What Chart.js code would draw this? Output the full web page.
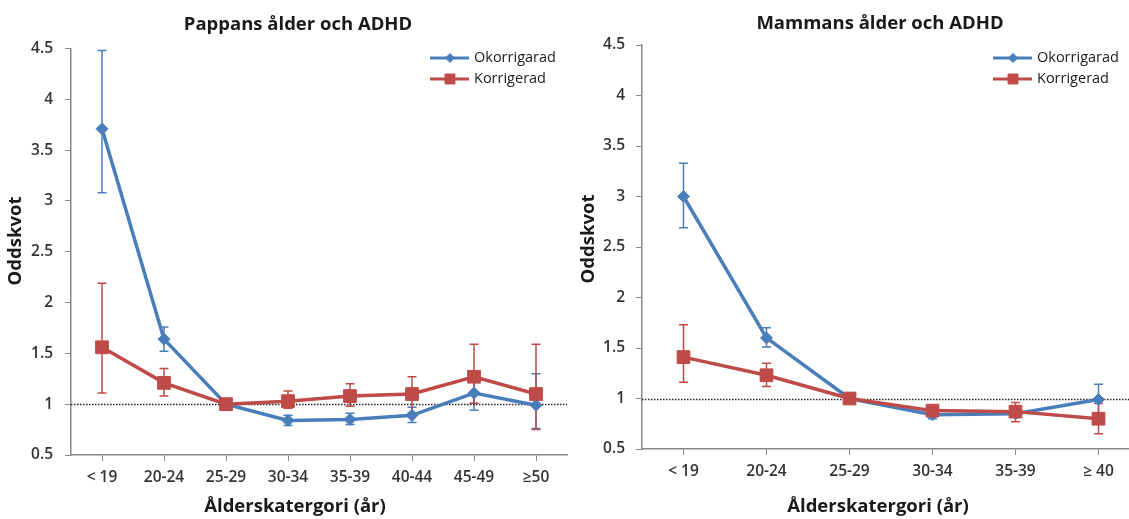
<!DOCTYPE html>
<html>
<head>
<meta charset="utf-8">
<script src="https://cdn.jsdelivr.net/npm/chart.js@4"></script>
<style>
  html, body { margin: 0; padding: 0; background: #fff; overflow: hidden; width: 1129px; height: 519px; }
  .box { position: absolute; top: 0; height: 519px; width: 580px; }
</style>
</head>
<body>
<div class="box" style="left:0"><canvas id="pappa"></canvas></div>
<div class="box" style="left:576px"><canvas id="mamma"></canvas></div>
<script>
// data
const fatherAges = ['< 19', '20-24', '25-29', '30-34', '35-39', '40-44', '45-49', '≥50'];
const fatherCrude     = [3.71, 1.64, 1.00, 0.84, 0.85, 0.89, 1.11, 0.99];
const fatherCrudeLow  = [3.08, 1.52, 1.00, 0.79, 0.80, 0.82, 0.94, 0.76];
const fatherCrudeHigh = [4.48, 1.76, 1.00, 0.89, 0.91, 0.97, 1.27, 1.30];
const fatherAdj       = [1.56, 1.21, 1.00, 1.03, 1.08, 1.10, 1.27, 1.10];
const fatherAdjLow    = [1.11, 1.08, 1.00, 0.96, 0.98, 0.91, 1.01, 0.75];
const fatherAdjHigh   = [2.19, 1.35, 1.00, 1.13, 1.20, 1.27, 1.59, 1.59];

const motherAges = ['< 19', '20-24', '25-29', '30-34', '35-39', '≥ 40'];
const motherCrude     = [3.00, 1.60, 1.00, 0.84, 0.85, 0.99];
const motherCrudeLow  = [2.69, 1.51, 1.00, 0.80, 0.82, 0.85];
const motherCrudeHigh = [3.33, 1.70, 1.00, 0.88, 0.89, 1.14];
const motherAdj       = [1.41, 1.23, 1.00, 0.88, 0.87, 0.80];
const motherAdjLow    = [1.16, 1.12, 1.00, 0.83, 0.77, 0.65];
const motherAdjHigh   = [1.73, 1.35, 1.00, 0.93, 0.96, 0.95];

const seriesNames = ['Okorrigarad', 'Korrigerad'];
const yMin = 0.5, yMax = 4.5, yStep = 0.5;
const refValue = 1;

const BLUE = '#4A7EBB';
const RED = '#BE4B48';

Chart.defaults.font.family = "'Open Sans', sans-serif";
Chart.defaults.color = '#333';

// error bars, drawn under the lines
const errorBars = {
  id: 'errorBars',
  beforeDatasetsDraw(chart) {
    const { ctx, scales: { y } } = chart;
    chart.data.datasets.forEach((ds, i) => {
      if (!ds.low) return;
      const meta = chart.getDatasetMeta(i);
      ctx.save();
      ctx.strokeStyle = ds.borderColor;
      ctx.lineWidth = 1.5;
      meta.data.forEach((pt, j) => {
        if (ds.low[j] === ds.high[j]) return;
        const top = y.getPixelForValue(ds.high[j]);
        const bot = y.getPixelForValue(ds.low[j]);
        ctx.beginPath();
        ctx.moveTo(pt.x, top); ctx.lineTo(pt.x, bot);
        ctx.moveTo(pt.x - 4.5, top); ctx.lineTo(pt.x + 4.5, top);
        ctx.moveTo(pt.x - 4.5, bot); ctx.lineTo(pt.x + 4.5, bot);
        ctx.stroke();
      });
      ctx.restore();
    });
  }
};

// dotted line at OR = 1
const refLine = {
  id: 'refLine',
  beforeDatasetsDraw(chart, args, opts) {
    const { ctx, chartArea, scales: { y } } = chart;
    const py = Math.round(y.getPixelForValue(opts.value)) + 0.5;
    ctx.save();
    ctx.strokeStyle = '#222';
    ctx.lineWidth = 1.6;
    ctx.setLineDash([1.5, 1.5]);
    ctx.beginPath();
    ctx.moveTo(chartArea.left, py);
    ctx.lineTo(opts.toEdge ? chart.width : chartArea.right, py);
    ctx.stroke();
    ctx.restore();
  }
};

// titles and the small legend inside the plot
const texts = {
  id: 'texts',
  afterDraw(chart, args, o) {
    const { ctx } = chart;
    ctx.save();
    ctx.fillStyle = '#1a1a1a';
    ctx.textAlign = 'center';
    ctx.textBaseline = 'middle';
    ctx.font = "bold 18.5px 'Open Sans', sans-serif";
    ctx.fillText(o.title, o.titleAt[0], o.titleAt[1]);
    ctx.fillText(o.xTitle, o.xTitleAt[0], o.xTitleAt[1]);
    ctx.save();
    ctx.translate(o.yTitleAt[0], o.yTitleAt[1]);
    ctx.rotate(-Math.PI / 2);
    ctx.fillText(o.yTitle, 0, 0);
    ctx.restore();

    // legend
    ctx.font = "14.5px 'Open Sans', sans-serif";
    ctx.textAlign = 'left';
    chart.data.datasets.forEach((ds, i) => {
      const lx = o.legendAt[0], ly = o.legendAt[1] + i * 21;
      ctx.strokeStyle = ds.borderColor;
      ctx.fillStyle = ds.borderColor;
      ctx.lineWidth = 3;
      ctx.beginPath();
      ctx.moveTo(lx, ly); ctx.lineTo(lx + 39, ly);
      ctx.stroke();
      ctx.lineWidth = 1;
      Chart.helpers.drawPoint(ctx, {
        pointStyle: ds.pointStyle,
        radius: ds.pointStyle === 'rect' ? 7 : 4.5,
        rotation: 0,
        borderWidth: 1
      }, lx + 20, ly);
      ctx.fillStyle = '#1a1a1a';
      ctx.fillText(ds.label, lx + 44, ly);
    });
    ctx.restore();
  }
};

function makeChart(id, ages, crude, crudeLow, crudeHigh, adj, adjLow, adjHigh, look) {
  return new Chart(document.getElementById(id), {
    type: 'line',
    data: {
      labels: ages,
      datasets: [{
        label: seriesNames[0],
        data: crude,
        low: crudeLow,
        high: crudeHigh,
        borderColor: BLUE,
        backgroundColor: BLUE,
        borderWidth: 3.5,
        pointStyle: 'rectRot',
        pointRadius: 6,
        pointBorderWidth: 1,
        order: 1
      }, {
        label: seriesNames[1],
        data: adj,
        low: adjLow,
        high: adjHigh,
        borderColor: RED,
        backgroundColor: RED,
        borderWidth: 3.5,
        pointStyle: 'rect',
        pointRadius: 9,
        pointBorderWidth: 1,
        order: 0
      }]
    },
    options: {
      responsive: true,
      maintainAspectRatio: false,
      animation: false,
      events: [],
      layout: { padding: { top: look.top, right: look.right, bottom: 0, left: 0 } },
      plugins: {
        legend: { display: false },
        tooltip: { enabled: false },
        refLine: { value: refValue, toEdge: look.lineToEdge },
        texts: look.texts
      },
      scales: {
        x: {
          offset: true,
          afterFit(s) { s.height = look.xHeight; },
          grid: { drawOnChartArea: false, tickLength: 6, color: '#8a8a8a' },
          border: { color: '#8a8a8a', width: 1.5 },
          ticks: { padding: 7, color: '#333', font: { size: 15.5, weight: '600' } }
        },
        y: {
          min: yMin,
          max: yMax,
          afterFit(s) { s.width = look.yWidth; },
          grid: { drawOnChartArea: false, tickLength: 6, color: '#8a8a8a' },
          border: { color: '#8a8a8a', width: 1.5 },
          ticks: {
            stepSize: yStep,
            padding: look.yPad,
            color: '#333',
            font: { size: 15.5, weight: '600' },
            callback: v => String(v)
          }
        }
      }
    },
    plugins: [errorBars, refLine, texts]
  });
}

makeChart('pappa', fatherAges, fatherCrude, fatherCrudeLow, fatherCrudeHigh, fatherAdj, fatherAdjLow, fatherAdjHigh, {
  top: 48.5, right: 13, xHeight: 64, yWidth: 71, yPad: 12, lineToEdge: false,
  texts: {
    title: 'Pappans ålder och ADHD', titleAt: [298, 25],
    xTitle: 'Ålderskatergori (år)', xTitleAt: [295, 507],
    yTitle: 'Oddskvot', yTitleAt: [16, 241],
    legendAt: [430, 58]
  }
});

makeChart('mamma', motherAges, motherCrude, motherCrudeLow, motherCrudeHigh, motherAdj, motherAdjLow, motherAdjHigh, {
  top: 45, right: 16, xHeight: 70, yWidth: 66, yPad: 11, lineToEdge: true,
  texts: {
    title: 'Mammans ålder och ADHD', titleAt: [304, 24],
    xTitle: 'Ålderskatergori (år)', xTitleAt: [302, 507],
    yTitle: 'Oddskvot', yTitleAt: [13, 239],
    legendAt: [417, 58]
  }
});
</script>
</body>
</html>
